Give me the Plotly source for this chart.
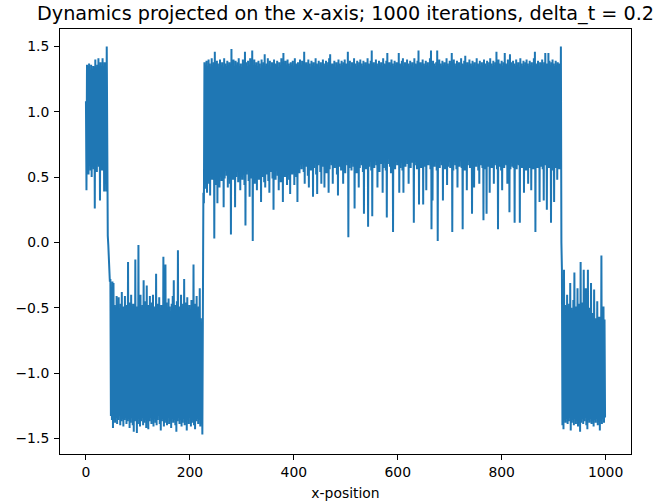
import numpy as np
import plotly.graph_objects as go

# Phase 1: iterations 0-47 (positive well, then falling through zero)
phase_1 = [
    1.08, 0.40, 1.36, 0.58, 1.35, 0.52, 1.37, 0.62, 1.30, 0.55,
    1.36, 0.50, 1.33, 0.60, 1.35, 0.56, 1.34, 0.26, 1.40, 0.60,
    1.33, 0.54, 1.36, 0.62, 1.41, 0.58, 1.32, 0.32, 1.38, 0.61,
    1.35, 0.55, 1.41, 0.60, 1.33, 0.39, 1.38, 0.57, 1.36, 0.39,
    1.50, 0.38, 0.05, -0.02, -0.12, -0.19, -0.30, -0.28,
]

# Phase 2: iterations 48-224 (negative well)
phase_2 = [
    -1.33, -0.52, -1.36, -0.30, -1.42, -0.31, -1.35, -0.48, -1.38, -0.55,
    -1.34, -0.41, -1.39, -0.50, -1.36, -0.42, -1.33, -0.58, -1.40, -0.47,
    -1.37, -0.38, -1.35, -0.53, -1.41, -0.49, -1.36, -0.41, -1.34, -0.56,
    -1.39, -0.48, -1.37, -0.15, -1.35, -0.50, -1.42, -0.46, -1.38, -0.40,
    -1.34, -0.54, -1.40, -0.47, -1.45, -0.52, -1.37, -0.13, -1.36, -0.49,
    -1.46, -0.55, -1.39, -0.02, -1.35, -0.46, -1.41, -0.40, -1.37, -0.53,
    -1.34, -0.48, -1.40, -0.29, -1.38, -0.51, -1.36, -0.45, -1.42, -0.33,
    -1.35, -0.57, -1.43, -0.48, -1.37, -0.41, -1.34, -0.52, -1.39, -0.46,
    -1.36, -0.40, -1.41, -0.55, -1.35, -0.49, -1.38, -0.24, -1.40, -0.51,
    -1.36, -0.47, -1.33, -0.42, -1.39, -0.56, -1.44, -0.48, -1.37, -0.53,
    -1.35, -0.11, -1.41, -0.50, -1.38, -0.17, -1.36, -0.46, -1.40, -0.54,
    -1.34, -0.43, -1.39, -0.49, -1.37, -0.58, -1.42, -0.47, -1.35, -0.41,
    -1.38, -0.29, -1.36, -0.52, -1.40, -0.48, -1.45, -0.45, -1.37, -0.06,
    -1.34, -0.53, -1.39, -0.49, -1.36, -0.40, -1.41, -0.55, -1.38, -0.47,
    -1.35, -0.28, -1.40, -0.51, -1.37, -0.46, -1.44, -0.42, -1.36, -0.57,
    -1.39, -0.48, -1.34, -0.52, -1.41, -0.44, -1.38, -0.50, -1.36, -0.17,
    -1.40, -0.54, -1.43, -0.47, -1.37, -0.41, -1.35, -0.53, -1.39, -0.49,
    -1.36, -0.35, -1.41, -0.58, -1.38, -0.62, -1.47,
]

# Phase 3: iterations 225-916 (long stay in the positive well)
phase_3 = [
    -0.02, 0.38, 0.30,
    1.38, 0.41, 1.36, 0.47, 1.39, 0.38, 1.35, 0.52, 1.40, 0.45,
    1.37, 0.36, 1.34, 0.55, 1.41, 0.48, 1.36, 0.60, 1.38, 0.03,
    1.46, 0.50, 1.35, 0.44, 1.39, 0.30, 1.37, 0.58, 1.33, 0.42,
    1.40, 0.53, 1.36, 0.47, 1.38, 0.62, 1.34, 0.27, 1.41, 0.49,
    1.37, 0.56, 1.35, 0.51, 1.39, 0.42, 1.36, 0.59, 1.38, 0.45,
    1.34, 0.06, 1.48, 0.54, 1.37, 0.48, 1.40, 0.61, 1.35, 0.27,
    1.39, 0.50, 1.36, 0.57, 1.38, 0.46, 1.41, 0.53, 1.35, 0.40,
    1.37, 0.59, 1.34, 0.48, 1.40, 0.55, 1.36, 0.44, 1.46, 0.13,
    1.38, 0.52, 1.35, 0.60, 1.39, 0.47, 1.36, 0.35, 1.41, 0.56,
    1.37, 0.49, 1.47, 0.01, 1.34, 0.58, 1.40, 0.45, 1.36, 0.53,
    1.38, 0.40, 1.35, 0.62, 1.39, 0.48, 1.37, 0.55, 1.33, 0.31,
    1.40, 0.57, 1.36, 0.50, 1.38, 0.46, 1.44, 0.42, 1.35, 0.59,
    1.37, 0.52, 1.41, 0.47, 1.36, 0.38, 1.39, 0.61, 1.34, 0.54,
    1.38, 0.49, 1.35, 0.25, 1.40, 0.56, 1.37, 0.48, 1.36, 0.63,
    1.39, 0.51, 1.34, 0.40, 1.38, 0.57, 1.36, 0.46, 1.41, 0.53,
    1.37, 0.31, 1.45, 0.58, 1.35, 0.50, 1.39, 0.62, 1.36, 0.44,
    1.40, 0.55, 1.37, 0.48, 1.35, 0.37, 1.38, 0.60, 1.36, 0.52,
    1.39, 0.57, 1.34, 0.44, 1.41, 0.63, 1.37, 0.50, 1.36, 0.31,
    1.38, 0.59, 1.35, 0.53, 1.40, 0.66, 1.36, 0.56, 1.39, 0.61,
    1.37, 0.54, 1.46, 0.45, 1.35, 0.62, 1.38, 0.58, 1.36, 0.51,
    1.40, 0.42, 1.37, 0.64, 1.34, 0.55, 1.39, 0.60, 1.36, 0.35,
    1.38, 0.57, 1.35, 0.63, 1.41, 0.52, 1.37, 0.37, 1.36, 0.59,
    1.39, 0.61, 1.34, 0.54, 1.38, 0.45, 1.36, 0.66, 1.40, 0.58,
    1.37, 0.42, 1.35, 0.60, 1.39, 0.53, 1.36, 0.65, 1.38, 0.38,
    1.41, 0.56, 1.44, 0.62, 1.35, 0.59, 1.37, 0.45, 1.36, 0.63,
    1.39, 0.57, 1.34, 0.61, 1.38, 0.52, 1.36, 0.36, 1.40, 0.64,
    1.37, 0.58, 1.35, 0.55, 1.39, 0.62, 1.36, 0.45, 1.38, 0.60,
    1.40, 0.53, 1.37, 0.66, 1.35, 0.59, 1.46, 0.04, 1.36, 0.57,
    1.39, 0.62, 1.34, 0.55, 1.38, 0.64, 1.36, 0.58, 1.41, 0.26,
    1.37, 0.60, 1.35, 0.53, 1.39, 0.63, 1.36, 0.42, 1.38, 0.57,
    1.40, 0.65, 1.37, 0.59, 1.35, 0.54, 1.39, 0.22, 1.36, 0.61,
    1.38, 0.56, 1.34, 0.62, 1.41, 0.12, 1.37, 0.58, 1.36, 0.64,
    1.39, 0.55, 1.47, 0.20, 1.35, 0.61, 1.38, 0.57, 1.36, 0.63,
    1.40, 0.59, 1.37, 0.42, 1.35, 0.66, 1.39, 0.54, 1.36, 0.60,
    1.38, 0.62, 1.34, 0.38, 1.41, 0.57, 1.37, 0.63, 1.36, 0.55,
    1.39, 0.19, 1.45, 0.60, 1.35, 0.64, 1.38, 0.58, 1.36, 0.53,
    1.40, 0.61, 1.37, 0.08, 1.35, 0.65, 1.39, 0.56, 1.36, 0.62,
    1.38, 0.59, 1.34, 0.63, 1.45, 0.38, 1.37, 0.57, 1.36, 0.64,
    1.39, 0.55, 1.41, 0.38, 1.35, 0.62, 1.38, 0.58, 1.36, 0.66,
    1.40, 0.60, 1.37, 0.45, 1.35, 0.63, 1.39, 0.57, 1.36, 0.61,
    1.38, 0.64, 1.34, 0.15, 1.41, 0.59, 1.37, 0.62, 1.36, 0.56,
    1.39, 0.63, 1.47, 0.29, 1.35, 0.60, 1.38, 0.57, 1.36, 0.65,
    1.40, 0.29, 1.37, 0.62, 1.35, 0.58, 1.39, 0.40, 1.36, 0.61,
    1.38, 0.59, 1.34, 0.64, 1.41, 0.56, 1.47, 0.10, 1.36, 0.32,
    1.39, 0.62, 1.37, 0.58, 1.35, 0.63, 1.38, 0.55, 1.47, 0.01,
    1.36, 0.60, 1.40, 0.57, 1.37, 0.64, 1.35, 0.59, 1.39, 0.32,
    1.36, 0.61, 1.38, 0.56, 1.34, 0.63, 1.41, 0.44, 1.37, 0.58,
    1.35, 0.62, 1.39, 0.57, 1.36, 0.60, 1.45, 0.08, 1.38, 0.55,
    1.40, 0.63, 1.37, 0.59, 1.35, 0.56, 1.39, 0.42, 1.36, 0.61,
    1.38, 0.58, 1.34, 0.64, 1.41, 0.57, 1.37, 0.10, 1.36, 0.60,
    1.39, 0.55, 1.43, 0.62, 1.35, 0.40, 1.38, 0.59, 1.36, 0.63,
    1.40, 0.57, 1.37, 0.61, 1.35, 0.22, 1.39, 0.56, 1.36, 0.42,
    1.38, 0.60, 1.34, 0.58, 1.41, 0.63, 1.37, 0.55, 1.36, 0.45,
    1.39, 0.62, 1.35, 0.59, 1.38, 0.57, 1.36, 0.17, 1.40, 0.61,
    1.37, 0.56, 1.35, 0.22, 1.39, 0.63, 1.36, 0.58, 1.38, 0.38,
    1.41, 0.60, 1.37, 0.57, 1.35, 0.62, 1.39, 0.45, 1.36, 0.59,
    1.38, 0.61, 1.46, 0.56, 1.34, 0.10, 1.40, 0.63, 1.37, 0.58,
    1.36, 0.55, 1.39, 0.40, 1.35, 0.62, 1.38, 0.57, 1.45, 0.60,
    1.37, 0.59, 1.36, 0.45, 1.40, 0.61, 1.35, 0.23, 1.44, 0.56,
    1.38, 0.62, 1.36, 0.58, 1.39, 0.57, 1.37, 0.15, 1.35, 0.63,
    1.40, 0.56, 1.36, 0.60, 1.38, 0.59, 1.34, 0.15, 1.41, 0.62,
    1.37, 0.57, 1.35, 0.61, 1.39, 0.38, 1.36, 0.58, 1.38, 0.55,
    1.40, 0.60, 1.37, 0.45, 1.35, 0.63, 1.39, 0.57, 1.36, 0.40,
    1.38, 0.61, 1.34, 0.56, 1.41, 0.62, 1.46, 0.08, 1.37, 0.59,
    1.36, 0.57, 1.39, 0.60, 1.35, 0.31, 1.38, 0.62, 1.37, 0.58,
    1.40, 0.56, 1.36, 0.32, 1.38, 0.61, 1.45, 0.59, 1.37, 0.25,
    1.35, 0.60, 1.45, 0.57, 1.39, 0.62, 1.36, 0.15, 1.38, 0.58,
    1.40, 0.55, 1.37, 0.31, 1.35, 0.61, 1.39, 0.57, 1.36, 0.48,
    1.38, 0.60, 1.37, 0.56, 1.36, 0.67, 1.50, 0.00, -0.21,
]

# Phase 4: iterations 917-999 (back in the negative well)
phase_4 = [
    -1.40, -0.45, -1.43, -0.21, -1.36, -0.48, -1.38, -0.52, -1.35, -0.40,
    -1.39, -0.55, -1.37, -0.47, -1.34, -0.31, -1.44, -0.50, -1.38, -0.56,
    -1.36, -0.44, -1.40, -0.23, -1.35, -0.53, -1.39, -0.49, -1.37, -0.35,
    -1.41, -0.58, -1.36, -0.47, -1.45, -0.15, -1.38, -0.52, -1.35, -0.46,
    -1.39, -0.21, -1.37, -0.55, -1.34, -0.35, -1.40, -0.57, -1.43, -0.21,
    -1.36, -0.50, -1.38, -0.59, -1.35, -0.31, -1.39, -0.54, -1.37, -0.60,
    -1.41, -0.36, -1.36, -0.58, -1.38, -0.62, -1.35, -0.45, -1.40, -0.61,
    -1.37, -0.57, -1.44, -0.64, -1.36, -0.10, -1.39, -0.63, -1.35, -0.49,
    -1.38, -0.59, -1.34,
]

x_position = phase_1 + phase_2 + phase_3 + phase_4
iterations = np.arange(len(x_position))

x_ticks = [0, 200, 400, 600, 800, 1000]
x_tick_labels = ["0", "200", "400", "600", "800", "1000"]
y_ticks = [-1.5, -1.0, -0.5, 0.0, 0.5, 1.0, 1.5]
y_tick_labels = ["\u22121.5", "\u22121.0", "\u22120.5", "0.0", "0.5", "1.0", "1.5"]

title_text = "Dynamics projected on the x-axis; 1000 iterations, delta_t = 0.2"
x_label = "x-position"

FONT = "DejaVu Sans"
W, H = 654, 503
L, R, T, B = 59.5, 22.5, 29, 49

fig = go.Figure()
fig.add_trace(go.Scatter(
    x=iterations, y=x_position, mode="lines",
    line=dict(color="#1f77b4", width=2),
    showlegend=False, hoverinfo="skip",
))

axis_common = dict(
    showline=True, linecolor="black", linewidth=1, mirror=True,
    ticks="outside", ticklen=5, tickwidth=1, tickcolor="black",
    showgrid=False, zeroline=False, automargin=False,
    tickfont=dict(family=FONT, size=13.9, color="black"),
)

fig.update_layout(
    width=W, height=H,
    margin=dict(l=L, r=R, t=T, b=B, pad=0, autoexpand=False),
    paper_bgcolor="white", plot_bgcolor="white",
    font=dict(family=FONT, color="black"),
    title=dict(
        text=title_text, font=dict(family=FONT, size=19.2, color="black"),
        x=(L + (W - L - R) / 2) / W, xanchor="center", xref="container",
        y=1 - 13 / H, yanchor="middle", yref="container",
    ),
    xaxis=dict(
        range=[-49.95, 1048.95], tickvals=x_ticks, ticktext=x_tick_labels,
        title=dict(text=x_label, font=dict(family=FONT, size=13.9, color="black"), standoff=9),
        **axis_common,
    ),
    yaxis=dict(
        range=[-1.62, 1.634], tickvals=y_ticks, ticktext=y_tick_labels,
        ticklabelstandoff=2,
        **axis_common,
    ),
)

# remove the default 8px page margin so the 654x503 figure fills the window
fig.write_html(
    "out.html",
    config={"displayModeBar": False},
    post_script="document.body.style.margin='0px';",
)
